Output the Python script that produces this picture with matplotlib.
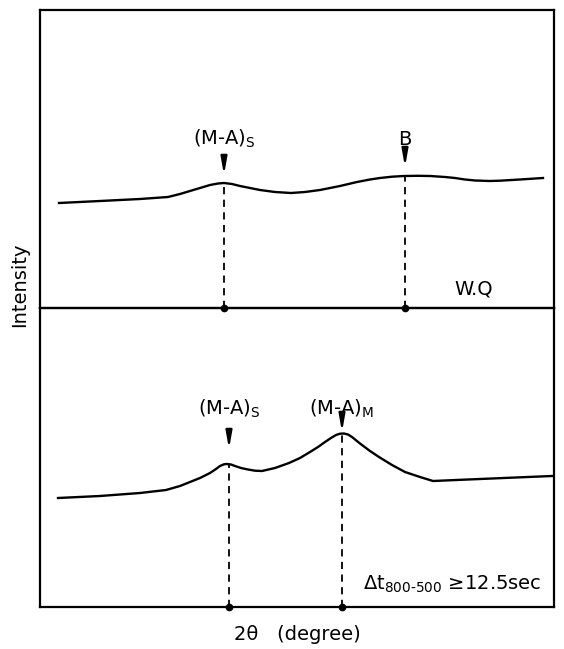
import numpy as np
import matplotlib
matplotlib.use("Agg")
import matplotlib.pyplot as plt

plt.rcParams['font.family'] = 'DejaVu Sans'
plt.rcParams['mathtext.default'] = 'regular'

# 2theta (arbitrary units) and intensity (arbitrary units)
wq_x = [59, 100, 140, 168, 180, 190, 200, 210, 218, 224, 232, 240, 250, 260, 275, 291, 305, 320, 340, 357, 370, 380, 392, 404, 418, 430, 445, 455, 465, 475, 490, 500, 520, 543]
wq_y = [105, 107, 109, 111, 114, 117, 120, 123, 124.5, 125, 124, 122, 120, 118, 116, 115, 116, 118, 122, 126, 128.5, 130, 131.3, 132, 132.2, 132, 131, 130, 128.5, 127.5, 127, 127.3, 128.5, 130]

slow_x = [58, 100, 140, 166, 180, 190, 200, 210, 216, 220, 224, 227, 231, 235, 241, 248, 255, 262, 275, 289, 300, 310, 318, 325, 331, 336, 340, 344, 348, 352, 360, 370, 379, 392, 405, 420, 433, 480, 552]
slow_y = [109, 111, 114, 117, 121, 125, 129, 134, 138, 141, 142.7, 143, 142.5, 141, 139, 137.5, 136.3, 136, 139, 144, 149, 155, 160, 165, 169, 172, 173.3, 173.5, 172.5, 170, 163.5, 156, 150, 142, 135, 130, 126, 128, 131]

# peak markers: position, curve height, label
wq_peaks = [224, 405]
wq_peak_h = [125, 132]
wq_labels = [r'(M-A)$_{S}$', 'B']

slow_peaks = [229, 342]
slow_peak_h = [143, 173]
slow_labels = [r'(M-A)$_{S}$', r'(M-A)$_{M}$']

fig = plt.figure(figsize=(5.64, 6.49), dpi=100)
ax1 = fig.add_axes([40/564, 1-308/649, 514/564, 298/649])
ax2 = fig.add_axes([40/564, 1-607/649, 514/564, 299/649])
ax1.set_zorder(3)
ax1.patch.set_visible(False)


def draw_panel(ax, x, y, peaks, peak_h, labels, gaps, arrow_len, label_y, ylim):
    ax.plot(x, y, color='black', lw=1.7, solid_joinstyle='round')
    for p, h, lab, g, ly in zip(peaks, peak_h, labels, gaps, label_y):
        ax.plot([p, p], [0, h], color='black', lw=1.3, ls=(0, (4, 3)))
        ax.plot(p, 0, 'o', color='black', ms=4.5, clip_on=False, zorder=5)
        ax.annotate('', xy=(p, h + g), xytext=(p, h + g + arrow_len),
                    arrowprops=dict(arrowstyle='-|>,head_width=0.18,head_length=1.0',
                                    color='black', lw=1.6, shrinkA=0, shrinkB=0))
        ax.text(p, ly, lab, ha='center', va='baseline', fontsize=14)
    ax.set_xlim(40, 554)
    ax.set_ylim(*ylim)
    ax.set_xticks([])
    ax.set_yticks([])
    for s in ax.spines.values():
        s.set_linewidth(1.6)

draw_panel(ax1, wq_x, wq_y, wq_peaks, wq_peak_h, wq_labels,
           [8, 9], 14, [163, 163], (0, 298))
draw_panel(ax2, slow_x, slow_y, slow_peaks, slow_peak_h, slow_labels,
           [15, 2], 16, [192, 192], (0, 299))

ax1.text(474, 14, 'W.Q', ha='center', va='baseline', fontsize=14)
ax2.text(452, 17, r'$\Delta$t$_{800\text{-}500}$ ≥12.5sec', ha='center', va='baseline', fontsize=14)

fig.text(20/564, 1-285/649, 'Intensity', rotation=90, ha='center', va='center', fontsize=14)
fig.text(297/564, 1-634/649, '2θ   (degree)', ha='center', va='center', fontsize=14)

fig.savefig('out.png', dpi=100)
